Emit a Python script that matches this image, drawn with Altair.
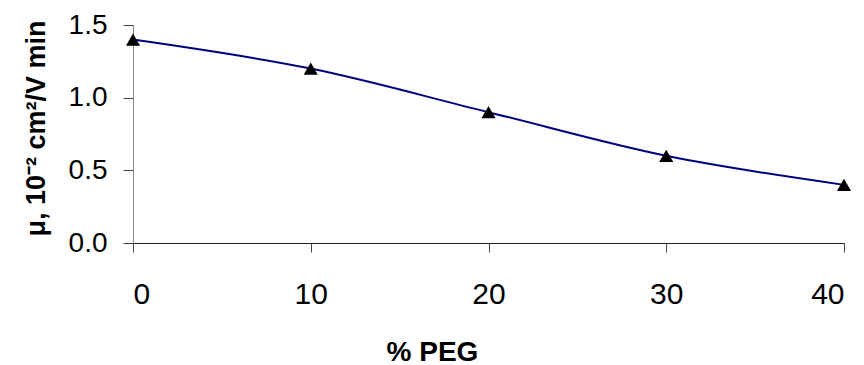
import altair as alt
import pandas as pd

peg = [0, 10, 20, 30, 40]
mobility = [1.40, 1.20, 0.90, 0.60, 0.40]

df = pd.DataFrame({"peg": peg, "mu": mobility})

FONT = "Liberation Sans"

x = alt.X("peg:Q",
          scale=alt.Scale(domain=[0, 40], nice=False, zero=False),
          axis=alt.Axis(title="% PEG", values=[0, 10, 20, 30, 40], format="d",
                        grid=False, domainColor="#222222", tickColor="#444444",
                        tickSize=9, labelPadding=27, labelFontSize=30, labelFont=FONT,
                        labelColor="black", titleFont=FONT, titleFontSize=28,
                        titleFontWeight="bold", titleColor="black",
                        titleX=299, titleY=117, titleBaseline="alphabetic",
                        titleAlign="center", titleAnchor="start"))
y = alt.Y("mu:Q",
          scale=alt.Scale(domain=[0, 1.5], nice=False),
          axis=alt.Axis(title="μ, 10⁻² cm²/V min", values=[0, 0.5, 1.0, 1.5], format=".1f",
                        grid=False, domainColor="#888888", tickColor="#444444",
                        tickSize=10, labelPadding=16, labelFontSize=28, labelFont=FONT,
                        labelColor="black", titleFont=FONT, titleFontSize=27,
                        titleFontWeight="bold", titleColor="black",
                        titleX=-97, titleY=103, titleAngle=-90,
                        titleBaseline="middle", titleAlign="center", titleAnchor="start"))

line = alt.Chart(df).mark_line(color="#000080", strokeWidth=2,
                               interpolate="cardinal").encode(x=x, y=y)
pts = alt.Chart(df).mark_point(shape="triangle-up", filled=True, color="black",
                               size=200, opacity=1).encode(x=x, y=y)

chart = (line + pts).properties(
    width=711, height=218,
    autosize=alt.AutoSizeParams(type="none"),
    padding={"left": 125, "top": 17, "right": 12, "bottom": 125},
).configure_view(stroke=None)

chart.save("out.html", embed_options={"renderer": "svg", "actions": False})
